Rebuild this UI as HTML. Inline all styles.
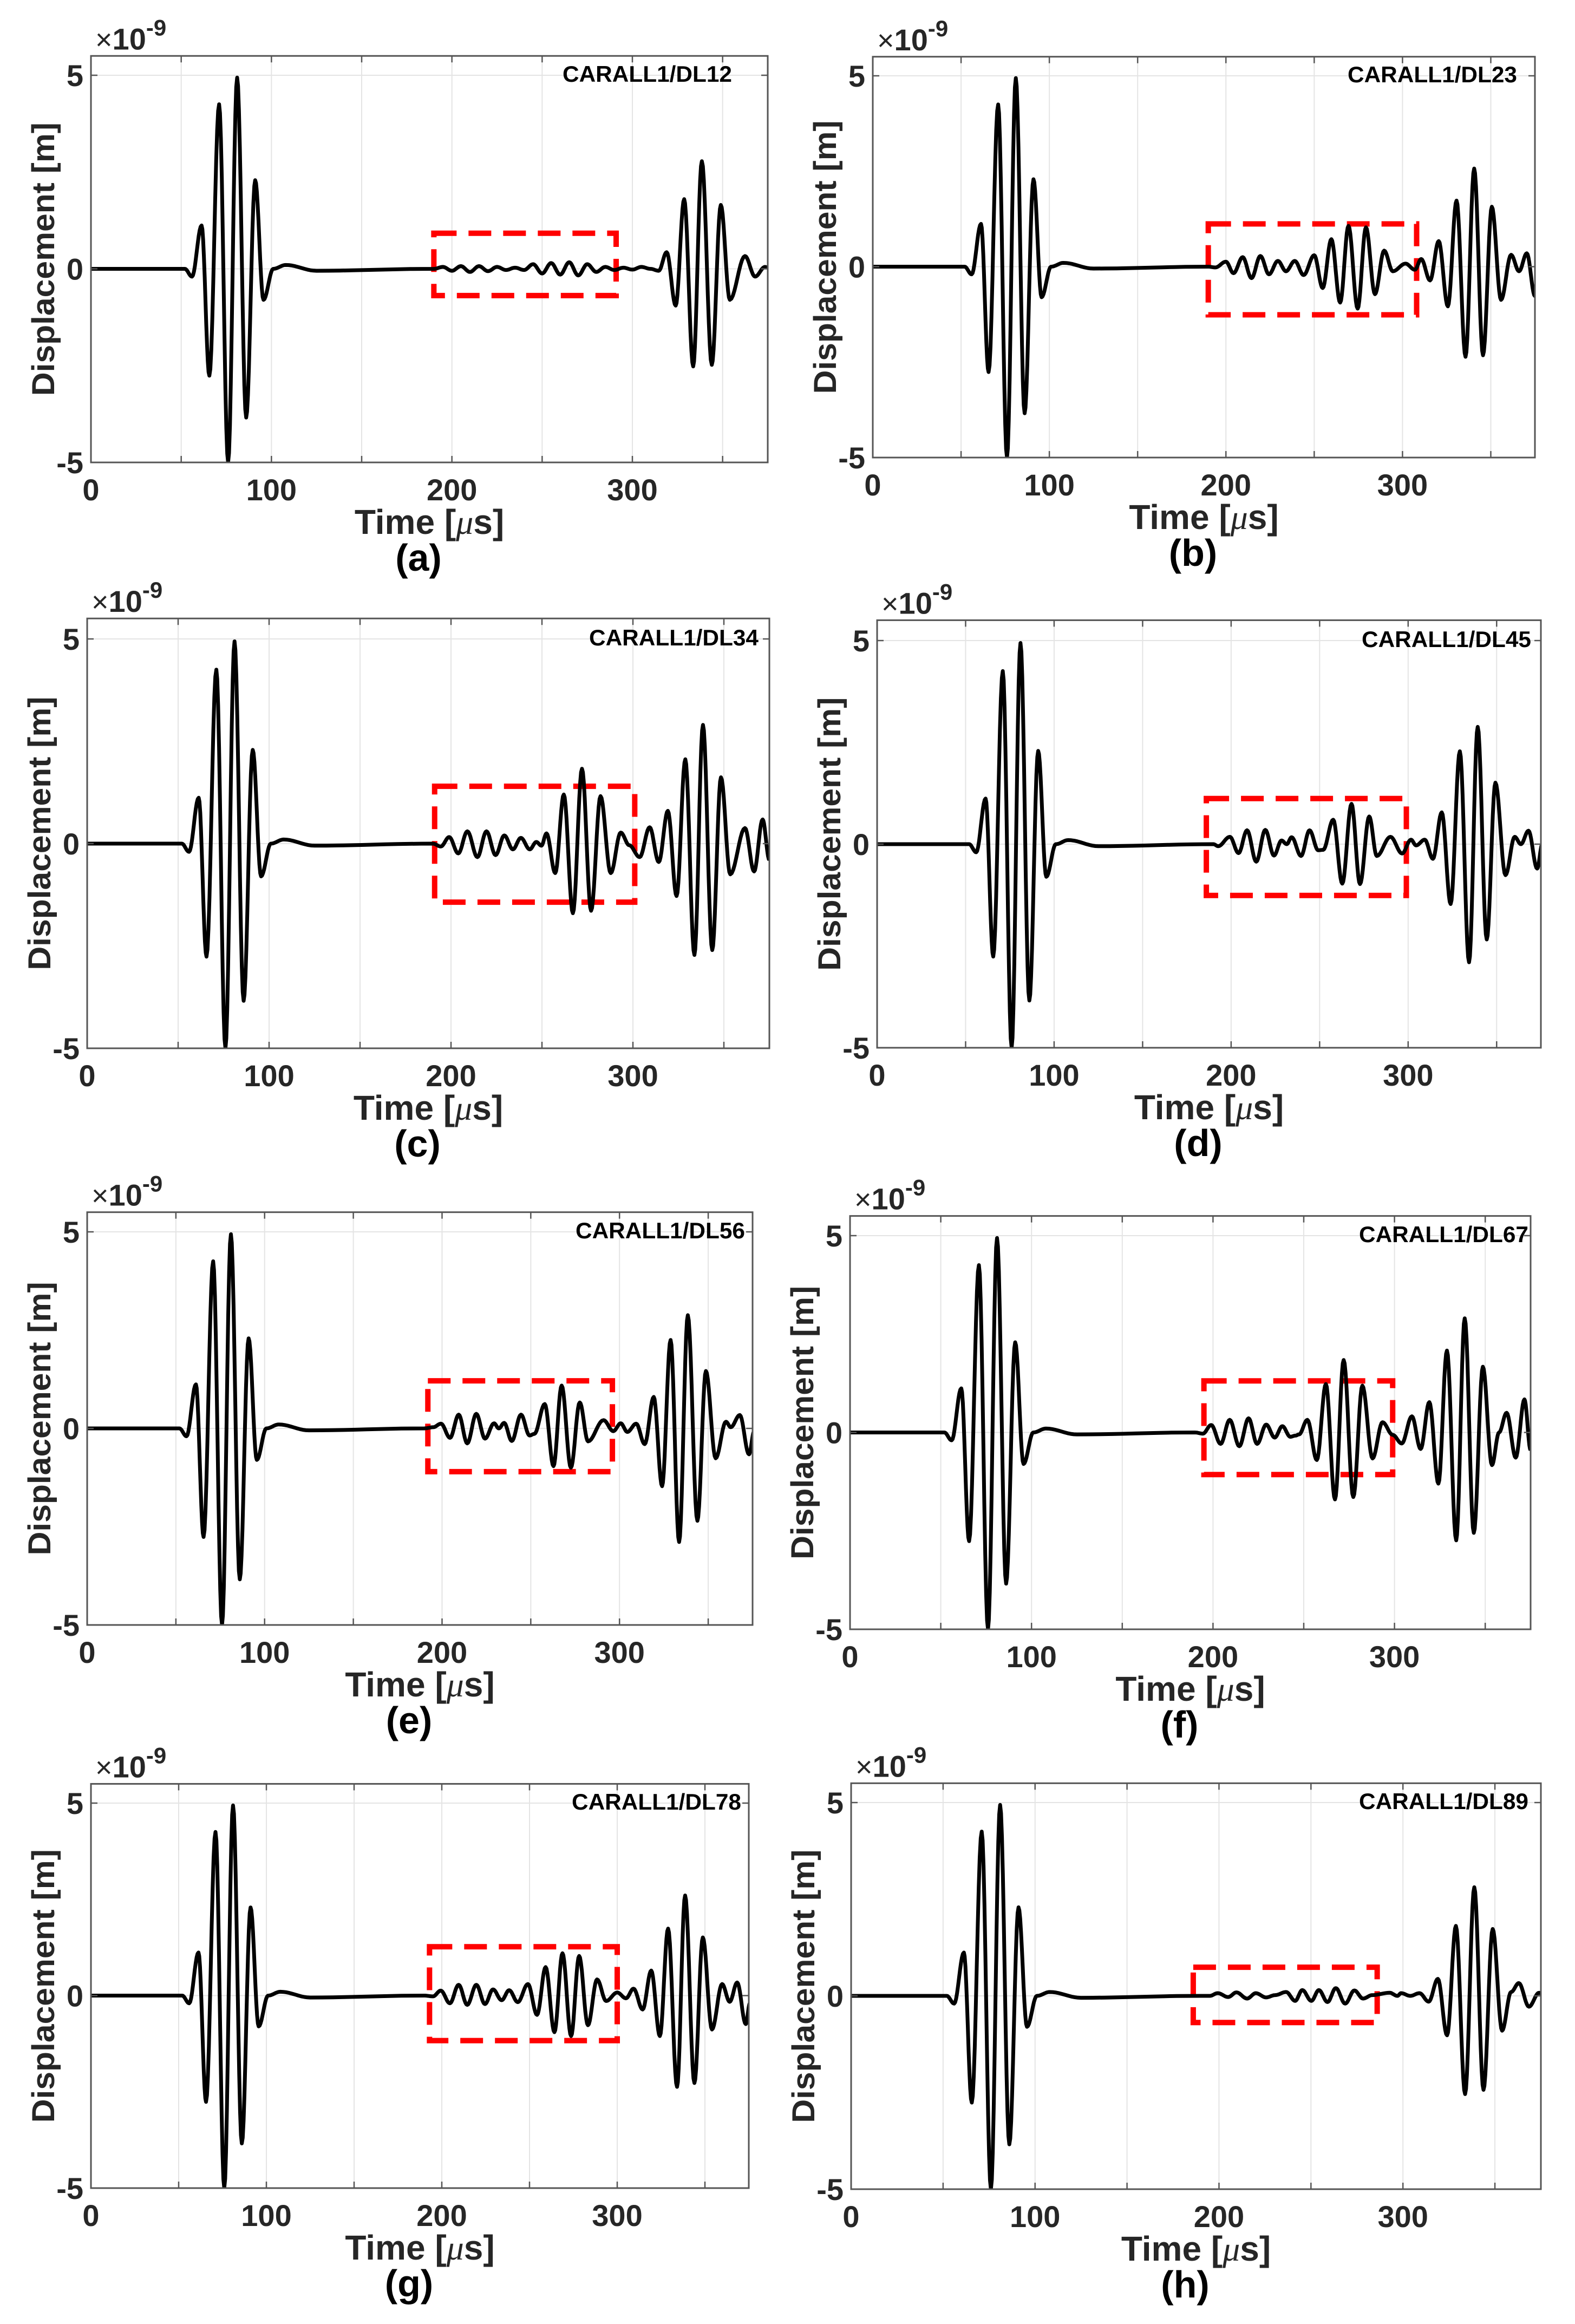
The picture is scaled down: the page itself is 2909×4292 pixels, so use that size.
<!DOCTYPE html>
<html><head><meta charset="utf-8">
<style>
html,body{margin:0;padding:0;background:#fff;}
svg{display:block;}
</style></head>
<body>
<svg id="fig" xmlns="http://www.w3.org/2000/svg" width="2909" height="4292" viewBox="0 0 2909 4292"></svg>
<script>
// Shared first wave packet (time in µs, displacement ×1e-9 m)
const firstT = [0, 52, 56, 61.3, 65.6, 71, 76, 81, 86, 91, 95.6, 101, 108, 125, 190];
const firstV = [0, 0, -0.2, 1.12, -2.76, 4.25, -5.0, 4.94, -3.84, 2.29, -0.8, 0.0, 0.1, -0.05, 0.0];

// Per-panel tail extrema
const tailA_T = [195,200,205,210,215,220,225,230,235,240,245,250,255,260,265,270,275,280,285,290,295,300,305,310,314.6,319,324,328.7,333.7,338.5,344,349,354,362.4,368,373.5,375];
const tailA_V = [0.05,-0.05,0.07,-0.08,0.07,-0.06,0.05,-0.03,0.03,-0.03,0.12,-0.12,0.15,-0.15,0.17,-0.17,0.12,-0.08,0.05,-0.03,0.03,-0.02,0.05,0.0,-0.05,0.43,-0.95,1.8,-2.52,2.78,-2.48,1.65,-0.8,0.33,-0.2,0.05,0.03];

const tailB_T = [194,200,204.3,209.5,214.5,219.5,224.4,229.4,234,239,244,250,254.8,259.7,264.7,269.4,274.6,279.3,284.4,289.6,294.5,301.7,307,310.6,315.6,320.5,325.7,330.6,335.7,340.6,345.6,350.6,355.8,361.5,366,370.4,375,376];
const tailB_V = [-0.02,0.13,-0.17,0.25,-0.3,0.28,-0.2,0.15,-0.12,0.15,-0.22,0.3,-0.56,0.72,-0.94,1.07,-1.1,1.03,-0.72,0.42,-0.12,0.08,-0.08,0.2,-0.36,0.67,-1.04,1.73,-2.36,2.57,-2.32,1.57,-0.87,0.31,-0.12,0.35,-0.77,-0.3];

const tailC_T = [194.4,199,204,209,214.5,219.5,224.5,229.3,234,238.4,243.3,246.9,249.7,252.5,257.3,262,267,272,277,282.2,287.8,293.3,298,303.7,309.2,314.2,319.2,324,328.8,333.8,338.5,343.6,348.4,353.5,361.6,366.6,371.3,375];
const tailC_V = [-0.07,0.16,-0.24,0.3,-0.33,0.3,-0.28,0.2,-0.14,0.14,-0.14,0.04,-0.05,0.25,-0.72,1.2,-1.7,1.83,-1.64,1.16,-0.72,0.27,-0.04,-0.33,0.4,-0.45,0.8,-1.28,2.06,-2.72,2.9,-2.6,1.62,-0.75,0.38,-0.68,0.59,-0.4];

const tailD_T = [192.7,199.3,204.2,209,214.2,219.3,224.2,228.5,231.4,234.2,239.5,244.3,249.2,252,257.7,262.8,268,272.8,278,282.3,290,296.6,301.6,304.5,309.4,314,319,324,329.2,334.4,339.3,344.4,349.3,355,360.2,363.7,368,372.9,375.8];
const tailD_V = [-0.05,0.18,-0.22,0.34,-0.43,0.35,-0.28,0.09,0.0,0.17,-0.29,0.34,-0.15,-0.14,0.6,-0.97,0.99,-0.98,0.68,-0.29,0.18,-0.23,0.11,-0.03,0.11,-0.36,0.78,-1.47,2.28,-2.9,2.88,-2.34,1.51,-0.76,0.18,0.0,0.33,-0.6,0.0];

const tailE_T = [195,199.4,204.5,209.4,214.2,219.3,224.2,229.3,232,235,239.3,244.5,249.3,252,257.9,262.8,267.4,272.6,277.6,282.3,291,296.5,300.7,304.4,309.4,314.2,319.3,324,328.8,333.6,338.5,343.9,348.7,354.2,360,362.7,367.8,373,375.9];
const tailE_V = [0.03,0.12,-0.24,0.35,-0.38,0.37,-0.26,0.13,0.0,0.14,-0.32,0.35,-0.18,-0.14,0.62,-0.96,1.09,-1.0,0.66,-0.33,0.21,-0.07,0.13,-0.09,0.12,-0.4,0.8,-1.47,2.25,-2.89,2.88,-2.35,1.46,-0.76,0.17,0.03,0.34,-0.66,-0.07];

const tailF_T = [194.4,199,204.2,209.2,214.5,219.6,224.3,229.3,234,238.2,242.6,245.4,247.4,252,257.2,262.2,267.2,272,277.3,282.3,287.9,293.4,299,304,309.6,314.4,319.2,324.2,328.9,334,338.7,343.7,348.7,353.7,357.6,361.8,366.8,371.6,375];
const tailF_V = [-0.03,0.19,-0.29,0.32,-0.35,0.36,-0.29,0.2,-0.13,0.16,-0.11,-0.08,-0.05,0.32,-0.7,1.23,-1.7,1.84,-1.64,1.19,-0.66,0.26,-0.06,-0.28,0.41,-0.42,0.77,-1.3,2.08,-2.74,2.9,-2.55,1.67,-0.83,0.0,0.5,-0.64,0.84,-0.45];

const tailG_T = [195,199.4,204.6,209.6,214.5,219.7,224.6,229.2,234.1,238.4,243.3,249.1,254.3,259.2,264.2,268.8,273.7,278.3,283.3,288.5,293.7,300,305,309.3,314.5,319.4,324.3,329,334.1,338.7,344,348.8,354,359.8,364.1,368.4,373.3,375.6];
const tailG_V = [-0.02,0.13,-0.2,0.28,-0.24,0.28,-0.22,0.16,-0.12,0.14,-0.17,0.3,-0.5,0.74,-0.95,1.1,-1.05,1.03,-0.77,0.42,-0.14,0.08,-0.07,0.18,-0.36,0.65,-1.05,1.74,-2.37,2.6,-2.27,1.51,-0.88,0.3,-0.16,0.34,-0.74,-0.2];

const tailH_T = [195,199.3,205,209.5,215.3,220,225.6,230.6,236.5,241.4,245.3,250.2,254.3,259,263.5,268.6,273.6,278.3,283.3,292.8,297,299,304,309,314,319,324,328.8,333.8,338.8,343.8,348.8,353.9,358.8,363,368.5,374,375];
const tailH_V = [0.0,0.07,-0.03,0.09,-0.07,0.07,-0.04,0.02,0.1,-0.13,0.15,-0.13,0.15,-0.16,0.2,-0.2,0.14,-0.07,0.02,0.08,0.0,0.07,0.0,0.07,-0.15,0.44,-1.02,1.81,-2.54,2.81,-2.43,1.73,-0.9,0.1,0.33,-0.28,0.08,0.06];

// Red highlight boxes [t0, t1, vTop, vBottom]
const boxA = [190, 291, 0.92, -0.69];
const boxB = [190, 308, 1.12, -1.26];
const boxC = [191, 301, 1.4, -1.43];
const boxD = [186, 299, 1.12, -1.26];
const boxE = [192, 296, 1.21, -1.1];
const boxF = [195, 299, 1.31, -1.07];
const boxG = [193, 300, 1.27, -1.17];
const boxH = [186, 286, 0.74, -0.69];

const xTicks = [0, 100, 200, 300];
const xGrid = [0, 50, 100, 150, 200, 250, 300, 350];
const yTicks = [-5, 0, 5];
const yTickLabels = ['-5', '0', '5'];
const panelNames = ['CARALL1/DL12','CARALL1/DL23','CARALL1/DL34','CARALL1/DL45','CARALL1/DL56','CARALL1/DL67','CARALL1/DL78','CARALL1/DL89'];
const panelLetters = ['(a)','(b)','(c)','(d)','(e)','(f)','(g)','(h)'];

// Layout (pixel geometry, not data)
const layout = [
  {L:168, R:1418, Y5:139, B:854, nameOff:66},
  {L:1612,R:2835, Y5:140, B:845, nameOff:33},
  {L:161, R:1421, Y5:1180,B:1936,nameOff:20},
  {L:1620,R:2846, Y5:1183,B:1935,nameOff:18},
  {L:161, R:1390, Y5:2275,B:3001,nameOff:14},
  {L:1570,R:2827, Y5:2282,B:3009,nameOff:4},
  {L:168, R:1383, Y5:3330,B:4041,nameOff:14},
  {L:1572,R:2846, Y5:3329,B:4043,nameOff:23}
];
const tails = [[tailA_T,tailA_V],[tailB_T,tailB_V],[tailC_T,tailC_V],[tailD_T,tailD_V],[tailE_T,tailE_V],[tailF_T,tailF_V],[tailG_T,tailG_V],[tailH_T,tailH_V]];
const boxes = [boxA,boxB,boxC,boxD,boxE,boxF,boxG,boxH];
const XMAX = 375, YMAX = 5.5, YMIN = -5;

const NS = 'http://www.w3.org/2000/svg';
const svg = document.getElementById('fig');
function mk(tag, attrs, parent) {
  const e = document.createElementNS(NS, tag);
  for (const k in attrs) e.setAttribute(k, attrs[k]);
  (parent || svg).appendChild(e);
  return e;
}
const NARROW = '"Liberation Sans Narrow","Liberation Sans",Arial,sans-serif';
const WIDE = '"Liberation Sans",Arial,sans-serif';

layout.forEach((P, i) => {
  const unit = (P.B - P.Y5) / 10;
  const xs = t => P.L + (P.R - P.L) * t / XMAX;
  const ys = v => P.B - (v - YMIN) * unit;
  const top = ys(YMAX);
  const g = mk('g', {});
  
  

  xGrid.forEach(t => {
    const l = mk('line', {x1:xs(t), x2:xs(t), y1:top, y2:P.B, stroke:'#e4e4e4', 'stroke-width':2}, g);
    
    
  });
  yTicks.forEach(v => {
    const l = mk('line', {x1:P.L, x2:P.R, y1:ys(v), y2:ys(v), stroke:'#e4e4e4', 'stroke-width':2}, g);
    
    
  });

  const bx = boxes[i];
  const rb = mk('rect', {x:xs(bx[0]), y:ys(bx[2]), width:xs(bx[1])-xs(bx[0]), height:ys(bx[3])-ys(bx[2]), fill:'none', stroke:'#ff0000', 'stroke-width':10, 'stroke-dasharray':'42 22'}, g);
  
  

  const T = firstT.concat(tails[i][0]);
  const V = firstV.concat(tails[i][1]);
  let d = 'M' + xs(T[0]).toFixed(1) + ' ' + ys(V[0]).toFixed(1);
  for (let k = 1; k < T.length; k++) {
    const t0 = T[k-1], t1 = T[k], v0 = V[k-1], v1 = V[k];
    const n = 10;
    for (let s = 1; s <= n; s++) {
      const f = s / n;
      const t = t0 + (t1 - t0) * f;
      const v = v0 + (v1 - v0) * (1 - Math.cos(Math.PI * f)) / 2;
      d += 'L' + xs(t).toFixed(1) + ' ' + ys(v).toFixed(1);
    }
  }
  const clipId = 'clip' + i;
  const cp = mk('clipPath', {id: clipId}, g);
  mk('rect', {x:P.L, y:top, width:P.R-P.L, height:P.B-top}, cp);
  const path = mk('path', {d:d, fill:'none', stroke:'#000', 'stroke-width':7, 'stroke-linejoin':'round', 'clip-path':'url(#'+clipId+')'}, g);
  
  

  const ax = mk('rect', {x:P.L, y:top, width:P.R-P.L, height:P.B-top, fill:'none', stroke:'#555', 'stroke-width':3}, g);
  
  
  xGrid.forEach(t => {
    mk('line', {x1:xs(t), x2:xs(t), y1:P.B, y2:P.B-12, stroke:'#555', 'stroke-width':2.5}, g);
    mk('line', {x1:xs(t), x2:xs(t), y1:top, y2:top+12, stroke:'#555', 'stroke-width':2.5}, g);
  });
  yTicks.forEach(v => {
    mk('line', {x1:P.L, x2:P.L+12, y1:ys(v), y2:ys(v), stroke:'#555', 'stroke-width':2.5}, g);
    mk('line', {x1:P.R, x2:P.R-12, y1:ys(v), y2:ys(v), stroke:'#555', 'stroke-width':2.5}, g);
  });

  xTicks.forEach(t => {
    const tx = mk('text', {x:xs(t), y:P.B+70, 'text-anchor':'middle', 'font-family':NARROW, 'font-weight':'bold', 'font-size':56, fill:'#262626'}, g);
    tx.textContent = String(t);
    
    
  });
  yTicks.forEach((v, k) => {
    const tx = mk('text', {x:P.L-14, y:ys(v)+20, 'text-anchor':'end', 'font-family':NARROW, 'font-weight':'bold', 'font-size':56, fill:'#262626'}, g);
    tx.textContent = yTickLabels[k];
    
    
  });

  const ex = mk('text', {x:P.L+8, y:top-12, 'font-family':NARROW, 'font-size':54, fill:'#262626'}, g);
  
  
  const s1 = mk('tspan', {}, ex); s1.textContent = '×';
  const s2 = mk('tspan', {'font-weight':'bold', 'font-size':56}, ex); s2.textContent = '10';
  const s3 = mk('tspan', {'font-weight':'bold', 'font-size':42, dy:-26}, ex); s3.textContent = '-9';

  const nm = mk('text', {x:P.R-P.nameOff, y:P.Y5+12, 'text-anchor':'end', 'font-family':NARROW, 'font-weight':'bold', 'font-size':42, fill:'#000', textLength:313, lengthAdjust:'spacingAndGlyphs'}, g);
  nm.textContent = panelNames[i];
  
  

  const cx = (P.L + P.R) / 2;
  const xl = mk('text', {x:cx, y:P.B+132, 'text-anchor':'middle', 'font-family':NARROW, 'font-weight':'bold', 'font-size':64, fill:'#262626'}, g);
  
  
  const a1 = mk('tspan', {}, xl); a1.textContent = 'Time [';
  const a2 = mk('tspan', {'font-style':'italic', 'font-weight':'normal', 'font-family':'"Liberation Serif",serif'}, xl); a2.textContent = 'μ';
  const a3 = mk('tspan', {}, xl); a3.textContent = 's]';

  const cy = (top + P.B) / 2;
  const yl = mk('text', {x:0, y:0, transform:'translate(' + (P.L-68) + ',' + cy + ') rotate(-90)', 'text-anchor':'middle', 'font-family':WIDE, 'font-weight':'bold', 'font-size':58, fill:'#262626', textLength:505, lengthAdjust:'spacingAndGlyphs'}, g);
  yl.textContent = 'Displacement [m]';
  
  

  const sl = mk('text', {x:cx-20, y:P.B+200, 'text-anchor':'middle', 'font-family':WIDE, 'font-weight':'bold', 'font-size':70, fill:'#000'}, g);
  sl.textContent = panelLetters[i];
  
  
});
</script>
</body></html>
